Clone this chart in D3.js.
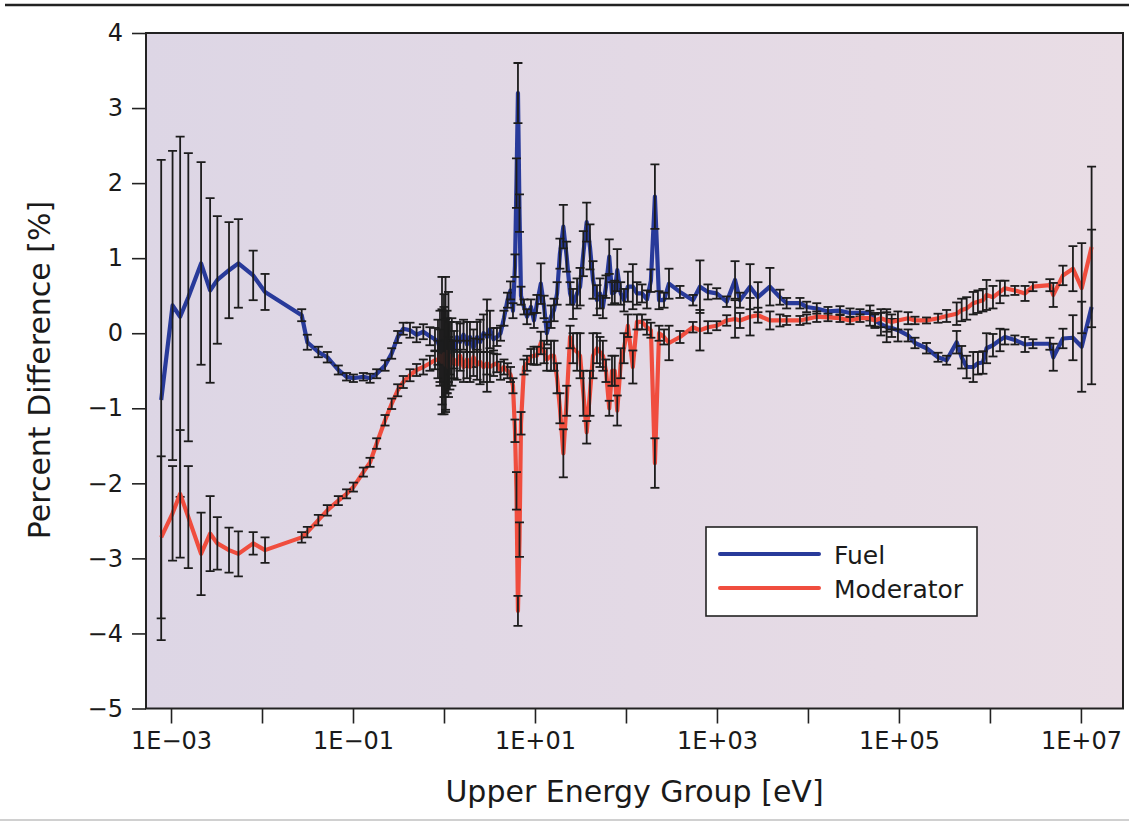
<!DOCTYPE html>
<html><head><meta charset="utf-8">
<script src="https://cdn.jsdelivr.net/npm/d3@7"></script>
<style>
body{margin:0;background:#fff;}
text{font-family:"DejaVu Sans",sans-serif;fill:#1a1a1a;}
</style></head>
<body>
<svg id="chart" width="1129" height="822"></svg>
<script>
// Upper energy of each group [eV]
const energy = [
  7.8e-4, 1.04e-3, 1.26e-3, 1.55e-3, 2.14e-3, 2.69e-3, 3.23e-3, 4.34e-3, 5.5e-3, 8.0e-3,
  1.08e-2, 2.73e-2, 3.15e-2, 4.16e-2, 5.22e-2, 6.9e-2, 8.5e-2, 0.101, 0.130, 0.154,
  0.182, 0.225, 0.266, 0.31, 0.357, 0.423, 0.50, 0.593, 0.70, 0.796,
  0.859, 0.904, 0.951, 1.00, 1.04, 1.08, 1.12, 1.16, 1.22, 1.29,
  1.39, 1.50, 1.64, 1.79, 1.93, 2.11, 2.31, 2.49, 2.72, 2.97,
  3.20, 3.50, 3.82, 4.18, 4.56, 4.99, 5.38,
  5.73, 6.03, 6.26, 6.50, 6.76, 7.02, 7.57,
  8.17, 9.04, 9.75, 10.5, 11.6, 12.6, 13.5, 15.0, 16.2, 17.5,
  18.8, 20.5, 22.3, 24.3, 26.2, 29.0, 31.3, 34.0, 37.0, 40.2,
  43.4, 48.0, 51.8, 55.8, 60.3, 65.5, 70.2, 75.2, 80.2, 87.5,
  95.1, 105, 119, 132, 150, 170, 188, 208, 231, 262, 297,
  392, 545, 650, 796, 993, 1280, 1580, 1790, 2310, 2820,
  3820, 4920, 5830, 8170, 9680, 1.25e4, 1.66e4, 2.25e4, 2.9e4, 3.73e4,
  4.8e4, 5.45e4, 6.34e4, 7.33e4, 8.32e4, 9.75e4, 1.26e5, 1.5e5, 2.01e5, 2.69e5,
  3.34e5, 4.31e5, 4.89e5, 5.55e5, 6.55e5, 7.38e5, 8.37e5, 9.18e5, 1.08e6, 1.29e6,
  1.46e6, 1.88e6, 2.43e6, 2.97e6, 4.56e6, 4.97e6, 6.34e6, 8.17e6, 1.02e7, 1.31e7
];
const fuel = [
  -0.89, 0.37, 0.22, 0.48, 0.93, 0.57, 0.71, 0.84, 0.93, 0.77,
  0.55, 0.24, -0.12, -0.25, -0.32, -0.49, -0.58, -0.60, -0.58, -0.60,
  -0.54, -0.43, -0.27, -0.05, 0.06, 0.04, -0.02, 0.02, -0.04, -0.08,
  -0.12, -0.2, -0.1, -0.25, -0.15, -0.3, -0.05, -0.2, -0.1, -0.22,
  -0.05, -0.12, -0.02, -0.15, -0.05, -0.2, -0.05, -0.12, 0.0, -0.05,
  0.05, -0.08, -0.05, 0.0, 0.2, 0.44, 0.57,
  0.3, 0.9, 2.0, 3.2, 1.6, 0.5, 0.35,
  0.22, 0.35, 0.17, 0.39, 0.66, 0.35, 0.0, 0.22, 0.31, 0.53,
  1.06, 1.42, 1.02, 0.53, 0.39, 0.53, 0.62, 1.06, 1.48, 1.15,
  0.71, 0.44, 0.53, 0.35, 0.62, 1.02, 0.53, 0.55, 0.84, 0.53,
  0.44, 0.62, 0.62, 0.53, 0.53, 0.45, 0.7, 1.82, 0.44, 0.44, 0.66,
  0.55, 0.44, 0.62, 0.55, 0.53, 0.42, 0.71, 0.44, 0.62, 0.48,
  0.62, 0.48, 0.40, 0.40, 0.35, 0.33, 0.29, 0.30, 0.27, 0.27,
  0.27, 0.17, 0.12, 0.08, 0.07, 0.04, -0.03, -0.13, -0.2, -0.32,
  -0.36, -0.12, -0.32, -0.45, -0.45, -0.4, -0.39, -0.2, -0.16, -0.09,
  -0.05, -0.09, -0.15, -0.14, -0.14, -0.32, -0.07, -0.06, -0.18, 0.35
];
const fuelErr = [
  3.2, 2.06, 2.4, 1.92, 1.35, 1.23, 0.85, 0.64, 0.59, 0.33,
  0.24, 0.08, 0.1, 0.07, 0.07, 0.06, 0.05, 0.05, 0.05, 0.06,
  0.06, 0.07, 0.07, 0.08, 0.08, 0.1, 0.1, 0.1, 0.12, 0.15,
  0.3, 0.5, 0.85, 0.6, 0.9, 0.5, 0.6, 0.35, 0.3, 0.25,
  0.2, 0.25, 0.2, 0.3, 0.2, 0.25, 0.2, 0.3, 0.25, 0.5,
  0.25, 0.15, 0.12, 0.1, 0.1, 0.1, 0.12,
  0.1, 0.15, 0.33, 0.4, 0.25, 0.12, 0.1,
  0.1, 0.1, 0.1, 0.12, 0.27, 0.15, 0.15, 0.15, 0.15, 0.15,
  0.2, 0.29, 0.2, 0.15, 0.2, 0.2, 0.25, 0.3, 0.26, 0.3,
  0.25, 0.2, 0.2, 0.15, 0.15, 0.23, 0.15, 0.15, 0.28, 0.15,
  0.15, 0.2, 0.3, 0.15, 0.12, 0.12, 0.15, 0.43, 0.12, 0.1, 0.2,
  0.08, 0.07, 0.35, 0.1, 0.07, 0.07, 0.25, 0.1, 0.3, 0.2,
  0.25, 0.1, 0.07, 0.07, 0.07, 0.07, 0.06, 0.06, 0.06, 0.05,
  0.1, 0.1, 0.15, 0.2, 0.12, 0.15, 0.08, 0.07, 0.07, 0.06,
  0.06, 0.15, 0.15, 0.15, 0.2, 0.15, 0.15, 0.2, 0.15, 0.15,
  0.1, 0.06, 0.1, 0.06, 0.08, 0.18, 0.13, 0.3, 0.6, 1.03
];
const moderator = [
  -2.72, -2.40, -2.14, -2.45, -2.94, -2.67, -2.80, -2.89, -2.94, -2.80,
  -2.89, -2.72, -2.65, -2.49, -2.36, -2.23, -2.14, -2.05, -1.85, -1.72,
  -1.47, -1.16, -0.94, -0.76, -0.65, -0.56, -0.49, -0.45, -0.40, -0.36,
  -0.35, -0.3, -0.38, -0.28, -0.42, -0.25, -0.45, -0.3, -0.4, -0.35,
  -0.42, -0.3, -0.45, -0.35, -0.45, -0.32, -0.42, -0.38, -0.45, -0.4,
  -0.45, -0.42, -0.4, -0.5, -0.45, -0.5, -0.55,
  -0.7, -1.3, -2.1, -3.7, -2.75, -1.2, -0.45,
  -0.40, -0.31, -0.30, -0.30, -0.13, -0.25, -0.35, -0.3, -0.3, -0.6,
  -1.0, -1.6, -0.9, -0.05, -0.2, -0.25, -0.3, -0.8, -1.32, -0.8,
  -0.3, -0.2, -0.25, -0.3, -0.5, -1.0, -0.5, -0.5, -1.03, -0.4,
  -0.2, 0.1, -0.45, 0.15, 0.15, 0.08, 0.04, -1.73, 0.0, -0.05, -0.13,
  -0.05, 0.08, 0.04, 0.08, 0.1, 0.17, 0.19, 0.17, 0.22, 0.24,
  0.17, 0.17, 0.17, 0.17, 0.19, 0.22, 0.21, 0.2, 0.17, 0.2,
  0.2, 0.17, 0.2, 0.17, 0.15, 0.17, 0.2, 0.17, 0.17, 0.2,
  0.23, 0.26, 0.31, 0.33, 0.4, 0.42, 0.44, 0.51, 0.48, 0.55,
  0.6, 0.57, 0.53, 0.62, 0.64, 0.51, 0.77, 0.86, 0.6, 1.15
];
const moderatorErr = [
  1.08, 0.63, 0.85, 0.68, 0.55, 0.5, 0.35, 0.3, 0.3, 0.15,
  0.17, 0.07, 0.07, 0.07, 0.07, 0.06, 0.06, 0.06, 0.06, 0.06,
  0.07, 0.07, 0.07, 0.08, 0.08, 0.08, 0.08, 0.1, 0.1, 0.12,
  0.25, 0.35, 0.7, 0.8, 0.6, 0.55, 0.4, 0.45, 0.3, 0.25,
  0.2, 0.2, 0.2, 0.25, 0.2, 0.25, 0.2, 0.3, 0.2, 0.38,
  0.2, 0.15, 0.12, 0.12, 0.1, 0.1, 0.1,
  0.1, 0.15, 0.25, 0.2, 0.23, 0.15, 0.1,
  0.1, 0.1, 0.12, 0.12, 0.15, 0.15, 0.15, 0.2, 0.2, 0.2,
  0.2, 0.32, 0.2, 0.15, 0.2, 0.25, 0.3, 0.3, 0.15, 0.3,
  0.3, 0.2, 0.2, 0.2, 0.15, 0.1, 0.2, 0.2, 0.2, 0.2,
  0.2, 0.15, 0.22, 0.1, 0.1, 0.1, 0.1, 0.33, 0.1, 0.1, 0.23,
  0.08, 0.07, 0.27, 0.08, 0.06, 0.07, 0.25, 0.1, 0.25, 0.1,
  0.12, 0.08, 0.06, 0.06, 0.06, 0.07, 0.05, 0.05, 0.05, 0.05,
  0.1, 0.08, 0.12, 0.15, 0.1, 0.12, 0.08, 0.05, 0.04, 0.06,
  0.08, 0.15, 0.15, 0.15, 0.15, 0.15, 0.15, 0.2, 0.15, 0.15,
  0.1, 0.06, 0.1, 0.06, 0.08, 0.16, 0.13, 0.3, 0.6, 1.07
];
const seriesNames = ["Fuel", "Moderator"];
const xTickValues = [1e-3, 1e-2, 1e-1, 1, 10, 100, 1e3, 1e4, 1e5, 1e6, 1e7];
const xTickLabels = ["1E\u221203", "", "1E\u221201", "", "1E+01", "", "1E+03", "", "1E+05", "", "1E+07"];
const yTickValues = [-5, -4, -3, -2, -1, 0, 1, 2, 3, 4];
const yTickLabels = ["\u22125", "\u22124", "\u22123", "\u22122", "\u22121", "0", "1", "2", "3", "4"];
const xTitle = "Upper Energy Group [eV]";
const yTitle = "Percent Difference [%]";

// ---------- layout ----------
const P = {left: 146, right: 1123, top: 33, bottom: 708.5};
const colors = {Fuel: "#283a9a", Moderator: "#f04d3e"};
const svg = d3.select("#chart");

const x = d3.scaleLog().domain([5.31e-4, 2.9e7]).range([P.left, P.right]);
const y = d3.scaleLinear().domain([-5, 4]).range([P.bottom, P.top]);

const defs = svg.append("defs");
const grad = defs.append("linearGradient").attr("id", "bg").attr("x1", "0").attr("x2", "1").attr("y1", "0").attr("y2", "0");
grad.append("stop").attr("offset", "0").attr("stop-color", "#ddd6e5");
grad.append("stop").attr("offset", "0.5").attr("stop-color", "#e3d9e5");
grad.append("stop").attr("offset", "1").attr("stop-color", "#e9dde5");
defs.append("clipPath").attr("id", "clip").append("rect")
  .attr("x", P.left).attr("y", P.top).attr("width", P.right - P.left).attr("height", P.bottom - P.top);

// page rules
svg.append("line").attr("x1", 5).attr("x2", 1129).attr("y1", 5).attr("y2", 5)
  .attr("stroke", "#222").attr("stroke-width", 2.5);
svg.append("line").attr("x1", 0).attr("x2", 1129).attr("y1", 820).attr("y2", 820)
  .attr("stroke", "#d0d0d0").attr("stroke-width", 2);

// plot background
svg.append("rect").attr("x", P.left).attr("y", P.top)
  .attr("width", P.right - P.left).attr("height", P.bottom - P.top).attr("fill", "url(#bg)");

// data
const plot = svg.append("g").attr("clip-path", "url(#clip)");
const seriesData = [
  {name: "Fuel", vals: fuel, errs: fuelErr},
  {name: "Moderator", vals: moderator, errs: moderatorErr}
];
const line = d3.line().x(d => x(d.e)).y(d => y(d.v));
const cap = 4.5;
seriesData.forEach(s => {
  const pts = energy.map((e, i) => ({e, v: s.vals[i], err: s.errs[i]}));
  plot.append("path").datum(pts).attr("d", line)
    .attr("fill", "none").attr("stroke", colors[s.name]).attr("stroke-width", 4.2)
    .attr("stroke-linejoin", "round");
  const g = plot.append("g").attr("stroke", "#1c1c1c").attr("stroke-width", 1.8);
  const bars = g.selectAll("g").data(pts).join("g");
  bars.append("line").attr("x1", d => x(d.e)).attr("x2", d => x(d.e))
    .attr("y1", d => y(d.v - d.err)).attr("y2", d => y(d.v + d.err));
  bars.append("line").attr("x1", d => x(d.e) - cap).attr("x2", d => x(d.e) + cap)
    .attr("y1", d => y(d.v + d.err)).attr("y2", d => y(d.v + d.err));
  bars.append("line").attr("x1", d => x(d.e) - cap).attr("x2", d => x(d.e) + cap)
    .attr("y1", d => y(d.v - d.err)).attr("y2", d => y(d.v - d.err));
});

// frame
svg.append("rect").attr("x", P.left).attr("y", P.top)
  .attr("width", P.right - P.left).attr("height", P.bottom - P.top)
  .attr("fill", "none").attr("stroke", "#222").attr("stroke-width", 2);

// axes
const xAxis = svg.append("g").attr("transform", `translate(0,${P.bottom})`)
  .call(d3.axisBottom(x).tickValues(xTickValues).tickFormat((d, i) => xTickLabels[i]).tickSize(15).tickPadding(8));
const yAxis = svg.append("g").attr("transform", `translate(${P.left},0)`)
  .call(d3.axisLeft(y).tickValues(yTickValues).tickFormat((d, i) => yTickLabels[i]).tickSize(14).tickPadding(9));
[xAxis, yAxis].forEach(a => {
  a.select(".domain").remove();
  a.selectAll(".tick line").attr("stroke", "#222").attr("stroke-width", 1.6);
  a.selectAll(".tick text").attr("fill", "#1a1a1a").style("font-family", "'DejaVu Sans', sans-serif").style("font-size", "24px");
});

// titles
svg.append("text").attr("x", (P.left + P.right) / 2).attr("y", 802)
  .attr("text-anchor", "middle").style("font-size", "30px").text(xTitle);
svg.append("text").attr("transform", "translate(50,370) rotate(-90)")
  .attr("text-anchor", "middle").style("font-size", "30px").text(yTitle);

// legend
const lg = svg.append("g");
lg.append("rect").attr("x", 706).attr("y", 527).attr("width", 271).attr("height", 89)
  .attr("fill", "#fff").attr("stroke", "#222").attr("stroke-width", 1.6);
seriesNames.forEach((n, i) => {
  const yy = 554 + i * 34;
  lg.append("line").attr("x1", 720).attr("x2", 819).attr("y1", yy).attr("y2", yy)
    .attr("stroke", colors[n]).attr("stroke-width", 4).attr("stroke-linecap", "round");
  lg.append("text").attr("x", 834).attr("y", yy + 10).style("font-size", "25px").text(n);
});
</script>
</body></html>
